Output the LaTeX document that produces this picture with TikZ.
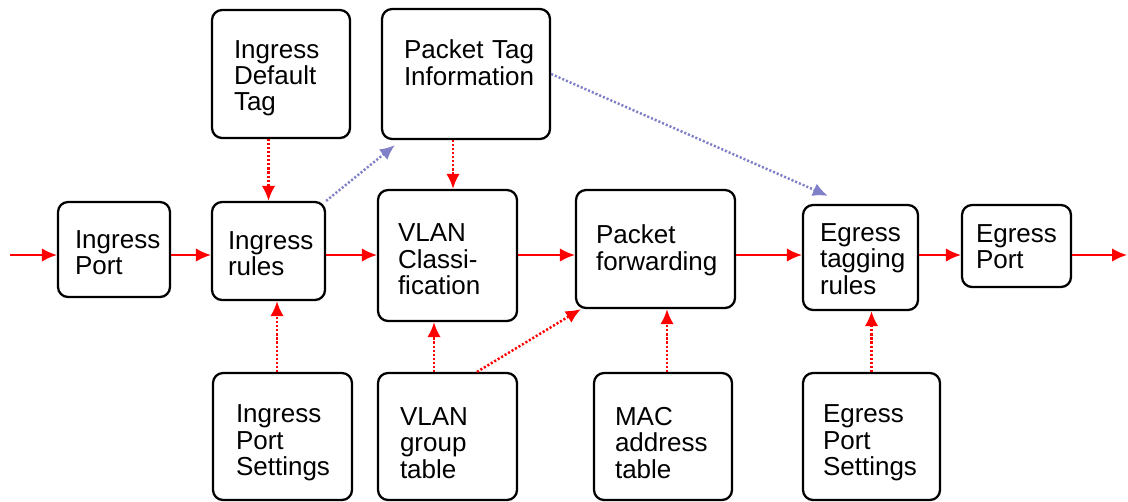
\documentclass[tikz,border=0pt]{standalone}
\usepackage{fontspec}
\setmainfont{Liberation Sans}
\usetikzlibrary{arrows.meta,calc}
\definecolor{flowred}{RGB}{255,0,0}
\definecolor{tagblue}{RGB}{128,128,200}
\newlength\stagestrut

\begin{document}
\begin{tikzpicture}[x=0.02cm,y=-0.02cm,>={Latex[length=0.3cm,width=0.27cm]},
    every node/.style={font=\fontsize{14.8}{15}\selectfont},
    stage/.style={draw,line width=1.3pt,rounded corners=0.2cm,align=left,
      inner xsep=0.4cm,inner ysep=0pt,
      execute at begin node={\hyphenpenalty=10000\pgfmathsetlength{\stagestrut}{10.6pt+#1*1.134pt}\rule{0pt}{\stagestrut}}},
    stage/.default=3,
    flow/.style={->,flowred,line width=1.1pt},
    lookup/.style={->,flowred,line width=1.4pt,dash pattern=on 1.2pt off 1.1pt},
    tagpath/.style={->,tagblue,line width=1.4pt,dash pattern=on 1.2pt off 1.1pt}]
  \useasboundingbox (0,0) rectangle (1128,501);
  % main stages
  \node[stage=3,inner xsep=0.34cm,text width=1.56cm,minimum height=1.9cm] (iport) at (114,249.5) {Ingress\\Port};
  \node[stage=2.5,inner xsep=0.32cm,text width=1.62cm,minimum height=1.96cm] (irules) at (268.5,251) {Ingress\\rules};
  \node[stage=3.5,text width=1.98cm,minimum height=2.62cm] (vclass) at (447.5,255.5) {VLAN\\Classi-\\fication};
  \node[stage=1.5,text width=2.38cm,minimum height=2.36cm] (pfwd) at (655.5,249) {Packet\\forwarding};
  \node[stage=1,inner xsep=0.34cm,text width=1.62cm,minimum height=2.1cm] (etag) at (860.5,257.5) {Egress\\tagging\\rules};
  \node[stage=0,inner xsep=0.28cm,text width=1.62cm,minimum height=1.64cm] (eport) at (1016.5,246) {Egress\\Port};
  % tag sources
  \node[stage=4,inner xsep=0.44cm,text width=1.88cm,minimum height=2.56cm] (idef) at (281,74) {Ingress\\Default\\Tag};
  \node[stage=2,inner xsep=0.44cm,text width=2.48cm,minimum height=2.6cm] (ptag) at (466,74) {Packet~Tag\\Information\\~};
  % tables and settings
  \node[stage=6,inner xsep=0.46cm,text width=1.86cm,minimum height=2.54cm] (ipset) at (282.5,436.5) {Ingress\\Port\\Settings};
  \node[stage=6,inner xsep=0.44cm,text width=1.9cm,minimum height=2.54cm] (vgrp) at (447.5,436.5) {VLAN\\group\\table};
  \node[stage=6,inner xsep=0.42cm,text width=1.92cm,minimum height=2.54cm] (mac) at (663,436.5) {MAC\\address\\table};
  \node[stage=6,text width=1.94cm,minimum height=2.54cm] (epset) at (871.5,436.5) {Egress\\Port\\Settings};

  % packet flow
  \coordinate (flowin) at (10,255);
  \coordinate (flowout) at (1127,255);
  \draw[flow] (flowin) -- (flowin -| iport.west);
  \draw[flow] (iport.east |- flowin) -- (irules.west |- flowin);
  \draw[flow] (irules.east |- flowin) -- (vclass.west |- flowin);
  \draw[flow] (vclass.east |- flowin) -- (pfwd.west |- flowin);
  \draw[flow] (pfwd.east |- flowin) -- (etag.west |- flowin);
  \draw[flow] (etag.east |- flowin) -- (eport.west |- flowin);
  \draw[flow] (eport.east |- flowin) -- (flowout);

  % lookups
  \draw[lookup] (irules.north |- idef.south) -- (irules.north);
  \draw[lookup] ([xshift=-0.11cm]ipset.north) -- ([xshift=-0.11cm]ipset.north |- irules.south);
  \draw[lookup] ([xshift=0.11cm]vclass.north |- ptag.south) -- ([xshift=0.11cm]vclass.north);
  \draw[lookup] ([xshift=-0.27cm]vgrp.north) -- ([xshift=-0.27cm]vclass.south);
  \draw[lookup] ([xshift=0.59cm]vgrp.north) -- ([xshift=0.12cm]pfwd.south west);
  \draw[lookup] ([xshift=0.08cm]mac.north) -- ([xshift=0.08cm]mac.north |- pfwd.south);
  \draw[lookup] (epset.north) -- (epset.north |- etag.south);

  % tag information
  \draw[tagpath] (irules.north east) -- ([shift={(0.28cm,-0.1cm)}]ptag.south west);
  \draw[tagpath] (ptag.east) -- ([shift={(0.52cm,0.16cm)}]etag.north west);
\end{tikzpicture}
\end{document}
